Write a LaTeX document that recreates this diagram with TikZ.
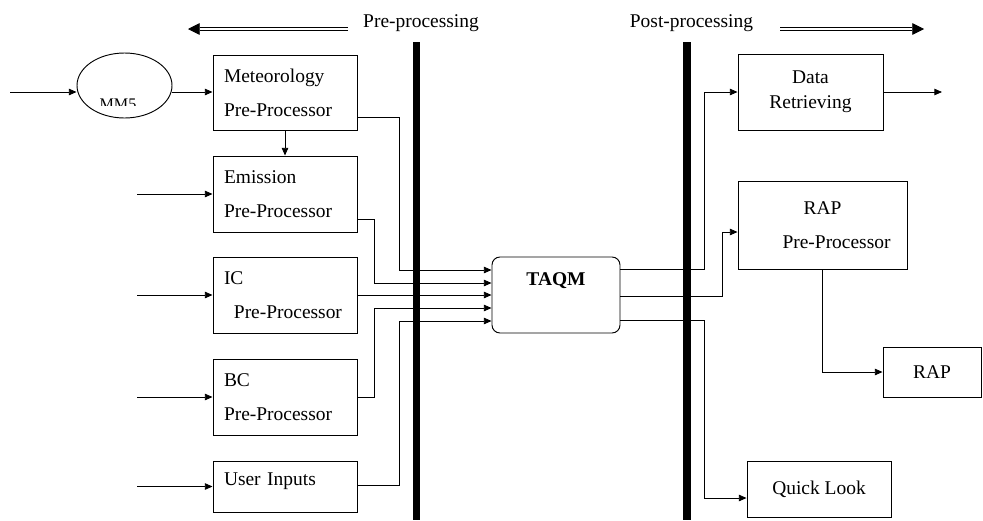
\documentclass[tikz,border=0pt]{standalone}
\usepackage{fontspec}
\setmainfont{Liberation Serif}
\usetikzlibrary{arrows.meta,shapes.geometric,positioning}

\begin{document}
\begin{tikzpicture}[x=0.03cm, y=-0.03cm,
    every node/.style={font=\fontsize{16.6}{28.9}\selectfont},
    pre box/.style={draw, line width=0.8pt, minimum width=4.32cm, minimum height=2.28cm,
        text width=3.66cm, inner xsep=0.33cm, align=left},
    post box/.style={draw, line width=0.8pt, align=center},
    feed/.style={line width=0.7pt, -{Triangle[length=6.5pt,width=5.5pt]}},
    stage/.style={line width=0.6pt, double, double distance=1.4pt, -{Triangle[length=10pt,width=10pt]}},
    divider/.style={line width=6pt}
]
    \useasboundingbox (0,0) rectangle (983,520);

    \node (pre label) at (421,23.5) {Pre-processing};
    \node (post label) at (691.5,23.5) {Post-processing};
    \coordinate (pre tail) at (348,29);
    \coordinate (pre tip) at (188,29);
    \coordinate (post tail) at (780,29);
    \coordinate (post tip) at (924,29);
    \draw[stage] (pre tail) -- (pre tip);
    \draw[stage] (post tail) -- (post tip);

    \draw[divider] (416.5,42) -- (416.5,520);
    \draw[divider] (687,42) -- (687,520);

    \node[draw, ellipse, line width=0.8pt, minimum width=2.85cm, minimum height=1.95cm,
        inner sep=0pt] (mm5) at (124.5,85.5) {};
    \begin{scope}
        \clip (77,53) rectangle (172,105);
        \node[anchor=base, inner sep=0pt, font=\fontsize{13.8}{16}\selectfont]
            (mm5 label) at (118,109) {MM5};
    \end{scope}

    \node[pre box, minimum height=2.25cm] (meteo pre) at (285,92.5) {Meteorology\\Pre-Processor};
    \node[pre box] (emission pre) at (285,194) {Emission\\Pre-Processor};
    \node[pre box] (ic pre) at (285,295) {IC\\\hspace*{8.5pt}Pre-Processor};
    \node[pre box] (bc pre) at (285,397) {BC\\Pre-Processor};
    \node[pre box, minimum height=1.53cm, text height=11pt, text depth=12.8pt]
        (user inputs) at (285,486.5) {User Inputs};

    \node[draw, rounded corners=6.8pt, line width=0.8pt, minimum width=3.84cm, minimum height=2.28cm,
        font=\fontsize{16.6}{20}\selectfont\bfseries, text height=11pt, text depth=27.2pt]
        (taqm) at (556,295) {TAQM};

    \node[post box, minimum width=4.35cm, minimum height=2.28cm, font=\fontsize{16.6}{21.3}\selectfont]
        (data retr) at (810.5,92) {Data\\Retrieving};
    \node[post box, minimum width=5.07cm, minimum height=2.64cm]
        (rap pre) at (822.5,225) {RAP\\\hspace*{24pt}Pre-Processor};
    \node[post box, minimum width=2.94cm, minimum height=1.5cm] (rap) at (932,372) {RAP};
    \node[post box, minimum width=4.32cm, minimum height=1.68cm] (quick look) at (819,489) {Quick Look};

    \coordinate (mm5 feed) at (10,92);
    \draw[feed] (mm5 feed) -- (mm5 feed -| mm5.west);
    \draw[feed] (mm5 feed -| mm5.east) -- (mm5 feed -| meteo pre.west);
    \draw[feed] (meteo pre) -- (emission pre);
    \foreach \n in {emission pre, ic pre, bc pre, user inputs}
        \draw[feed] (\n.west -| 137,0) -- (\n.west);

    \foreach \y [count=\i] in {270,283,295,308,321}
        \coordinate (taqm in \i) at (taqm.west |- 0,\y);
    \draw[feed] (meteo pre.east |- 0,117) -| (399,270) -- (taqm in 1);
    \draw[feed] (emission pre.east |- 0,219) -| (374,283) -- (taqm in 2);
    \draw[feed] (ic pre) -- (taqm in 3);
    \draw[feed] (bc pre.east) -| (374,308) -- (taqm in 4);
    \draw[feed] (user inputs.east |- 0,485) -| (399,321) -- (taqm in 5);

    \draw[feed] (taqm.east |- 0,269) -| (704,92) -- (data retr.west);
    \draw[feed] (taqm.east |- 0,296) -| (722,232) -- (rap pre.west |- 0,232);
    \draw[feed] (taqm.east |- 0,320) -| (704,498) -- (quick look.west |- 0,498);
    \draw[feed] (rap pre.south) |- (rap.west);
    \coordinate (data out) at (942,92);
    \draw[feed] (data retr.east) -- (data out);
\end{tikzpicture}
\end{document}
